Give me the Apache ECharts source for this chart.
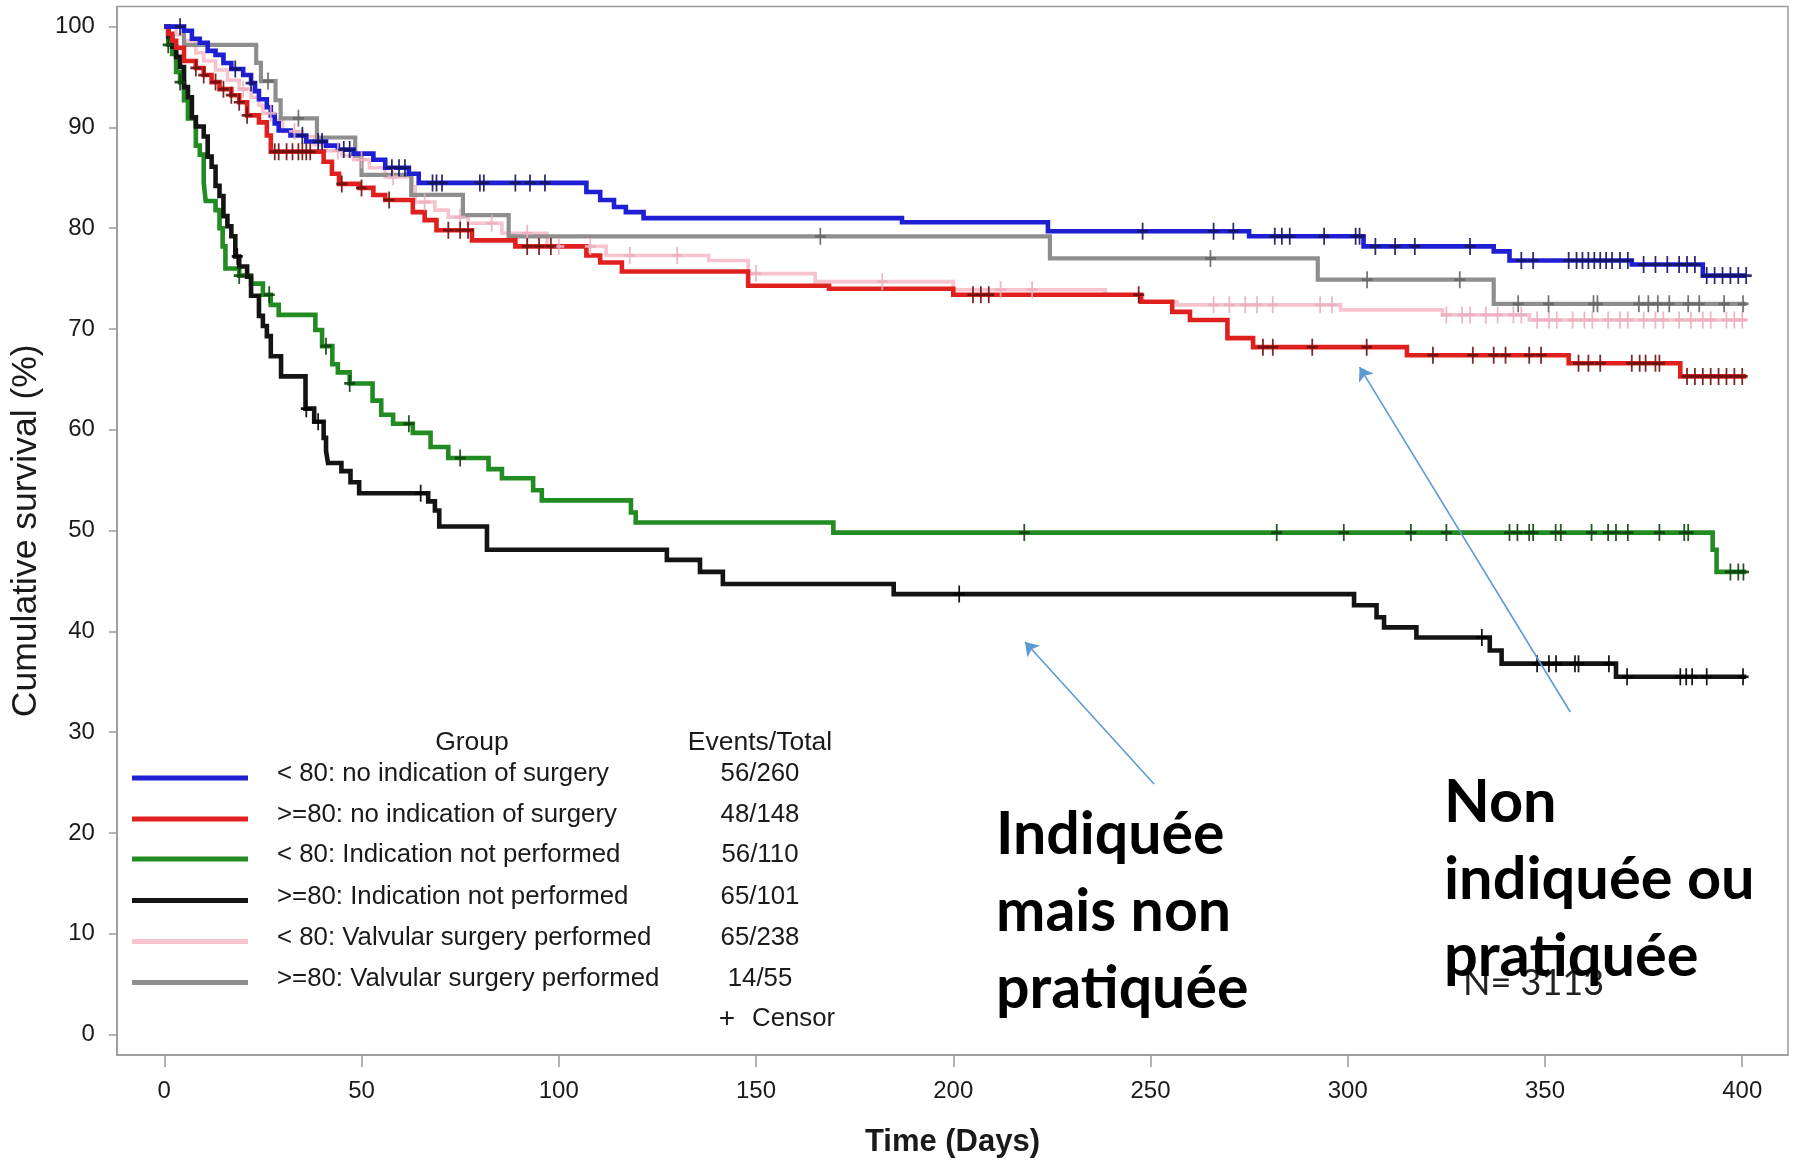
<!DOCTYPE html>
<html>
<head>
<meta charset="utf-8">
<script src="https://cdn.jsdelivr.net/npm/echarts@6/dist/echarts.min.js"></script>
<style>
  html, body { margin: 0; padding: 0; background: #ffffff; }
  #chart { width: 1793px; height: 1167px; }
</style>
</head>
<body>
<div id="chart"></div>
<script>
// ---- axis ticks ----
const xTickValues = [0, 50, 100, 150, 200, 250, 300, 350, 400];
const yTickValues = [0, 10, 20, 30, 40, 50, 60, 70, 80, 90, 100];

// ---- groups ----
const groupLabels = [
  '< 80: no indication of surgery',
  '>=80: no indication of surgery',
  '< 80: Indication not performed',
  '>=80: Indication not performed',
  '< 80: Valvular surgery performed',
  '>=80: Valvular surgery performed'
];
const eventsTotals = ['56/260', '48/148', '56/110', '65/101', '65/238', '14/55'];

// ---- Kaplan-Meier steps: [day, survival (%) from that day on] ----
const kmLt80NoIndication = [[0,100],[5,99.6],[7,98.8],[9,98.4],[11,97.6],[13,97.2],[15,96.4],[17,95.8],[20,95.2],[22,94.4],[23,93.6],[24,92.8],[26,92.0],[27,91.2],[28,90.4],[29,89.7],[32,89.2],[36,88.6],[41,88.2],[44,87.8],[48,87.4],[53,86.8],[56,86.0],[62,85.4],[64.5,84.5],[107,83.6],[110.5,82.8],[114,82.1],[117,81.6],[121.5,81.0],[187,80.6],[224,79.7],[275,79.2],[304,78.2],[337,77.7],[341,76.8],[372,76.4],[390,75.3],[401,75.3]];
const kmGe80NoIndication = [[0,100],[1,99.3],[2,98.6],[3,97.9],[5,96.6],[8,95.9],[10,95.2],[12,94.5],[14,93.8],[17,93.2],[19,92.5],[21,91.2],[24,90.5],[26,89.2],[27,87.6],[40.4,86.6],[42.5,85.4],[44.3,84.4],[49.4,84.0],[53,83.3],[56,82.8],[63,81.6],[66,80.8],[69,79.8],[78,78.8],[89,78.2],[107,77.3],[110.5,76.6],[116,75.7],[148,74.3],[168.5,74.0],[200,73.4],[247.6,72.7],[255.5,71.7],[260,70.9],[269.5,69.1],[276,68.2],[315,67.4],[356,66.6],[384.3,65.3],[401,65.3]];
const kmLt80IndicationNotPerformed = [[0,100],[1,98.2],[2,97.3],[3,95.5],[4,94.5],[5,92.7],[6,90.9],[8,88.2],[9,87.3],[10,84.5],[10.5,82.7],[13,81.8],[14,80.0],[14.8,78.2],[15.5,76.0],[19,75.3],[22,74.5],[25,73.4],[27,72.4],[29,71.4],[38.3,69.9],[40,68.3],[42.6,66.5],[44,65.7],[47,64.6],[52.8,62.9],[55,61.5],[58,60.6],[63,59.7],[67.5,58.3],[72,57.2],[82.2,56.1],[85.6,55.2],[93.5,54.0],[95.7,53.0],[118.3,51.8],[119.5,50.8],[169.6,49.8],[392.5,48.1],[393.5,45.9],[401,45.9]];
const kmGe80IndicationNotPerformed = [[0,100],[1,99],[2,98],[3,97],[4,96],[5,94],[6,93],[7,91],[8,90.1],[10,89.1],[11,87.1],[12,86.1],[13,84.2],[14,83.2],[15,81.2],[16,80.2],[17,79.2],[18,77.2],[19,76.2],[21,75.2],[22,73.3],[24,71.3],[25,70.3],[26,69.3],[27,67.3],[29.6,65.3],[35.8,62.1],[38,60.8],[40.4,59.2],[41,57.9],[41.5,56.7],[44.9,55.9],[47.2,54.8],[49.4,53.7],[66.9,52.9],[68.6,52.0],[69.7,50.4],[81.8,48.1],[127.4,47.1],[135.8,45.9],[141.6,44.7],[184.9,43.7],[301.6,42.6],[307.3,41.4],[309.2,40.4],[317.4,39.4],[336,38.1],[339,36.8],[368,35.5],[401,35.5]];
const kmLt80SurgeryPerformed = [[0,100],[3,99.2],[5,98.6],[8,97.4],[10,96.6],[13,95.7],[16,94.7],[19,93.8],[22,93.0],[24,92.2],[25,91.4],[28,90.7],[30,89.6],[35,89.1],[38,88.3],[41,87.7],[45,87.2],[48,86.8],[52,86.0],[56,85.1],[62.8,84.1],[63.6,82.6],[68.6,81.8],[72,81.1],[77,80.5],[85.6,79.5],[97,78.2],[112,77.3],[138,76.8],[148,75.5],[165,74.7],[200,73.9],[238.5,73.4],[248,72.7],[256.7,72.4],[298.2,71.9],[324,71.4],[346,70.9],[401,70.9]];
const kmGe80SurgeryPerformed = [[0,100],[5,98.2],[23.3,96.4],[24.5,94.6],[28.2,92.7],[29.5,90.9],[38.7,89.0],[48.4,87.2],[50,85.3],[62.6,83.3],[75.7,81.3],[87.3,79.2],[224.5,77.0],[292.4,74.9],[337,72.5],[401,72.5]];

// ---- censored observations (days) ----
const censorLt80NoIndication = [4,18,22,35,39,40,45.5,47,57.7,59.5,61,68,69,70.4,80,81,89,92.7,96.5,248,266,271,281.5,283.3,285.3,294,302,303,307,312,317,331,344,347,356,358,359.5,361,362.5,364,365.5,367,369,371,375,378,381,384,386,388,391,393,395,397,399,401];
const censorGe80NoIndication = [8,10,13,15,17,19,21,28,29,31,32.5,34,35,36,37,45,50,57,72,75,77,92,95,98,205,207,209,247,278.5,281,291,304.8,321.6,331.7,337,340,346,349,358.5,361,364,372,374,375.5,378,379,386,388,390,392,394,396,398,400];
const censorLt80IndicationNotPerformed = [1,4,19,26.6,41,47,62,75,218,282,299,316,325,341,343,346,347,352.7,354,361.8,366,368,371,379,385.3,386.3,397,399,400.3];
const censorGe80IndicationNotPerformed = [18.5,36,39,65,201.5,334,348,351,352.8,357.6,358.5,366.2,370.8,384.3,385.8,387.3,391,400.2];
const censorLt80SurgeryPerformed = [20,27,33,44,50,58,66,75,83,92,100,108,118,130,150,182,212,220,266,270,274,277,281,293,296,325,329,331,335,338,342,344,348,351,353,357,360,362,366,369,371,375,378,380,384,387,390,392,396,398,400];
const censorGe80SurgeryPerformed = [26.3,34,166.3,265.2,304.9,328.4,343.2,350.9,362.3,363.3,373.8,376.2,378.6,381.5,386.3,389.1,395.4,400.2];

// ---- annotation arrows: [tail, head] in [day, %] ----
const arrowIndicated = [[250.9, 24.85], [218.2, 38.94]];
const arrowNotIndicated = [[356.4, 32.0], [303.0, 66.22]];

// ---- styling ----
const lineColors = ['#1e1ed2', '#e0201e', '#228b22', '#141414', '#f7c3cf', '#8e8e8e'];
const censorColors = ['#14145e', '#6a1010', '#0f400f', '#000000', '#eab0be', '#666666'];
const lineWidths = [4.6, 4.6, 4.6, 4.6, 3.6, 4.2];
const FONT = '"Liberation Sans", Arial, Helvetica, sans-serif';
const NOTE_FONT = 'Lato, "Open Sans", sans-serif';
const TEXT_COLOR = '#1a1a1a';

const kmSteps = [kmLt80NoIndication, kmGe80NoIndication, kmLt80IndicationNotPerformed,
                 kmGe80IndicationNotPerformed, kmLt80SurgeryPerformed, kmGe80SurgeryPerformed];
const censorDays = [censorLt80NoIndication, censorGe80NoIndication, censorLt80IndicationNotPerformed,
                    censorGe80IndicationNotPerformed, censorLt80SurgeryPerformed, censorGe80SurgeryPerformed];

// survival level of a step curve at a given day
function survivalAt(steps, day) {
  let s = steps[0][1];
  for (const [t, v] of steps) { if (t <= day) s = v; else break; }
  return s;
}

const plusSymbol = 'path://M4.2,0 H5.8 V4.2 H10 V5.8 H5.8 V10 H4.2 V5.8 H0 V4.2 H4.2 Z';

// draw pink and gray first so the others sit on top
const drawOrder = [4, 5, 2, 3, 1, 0];
const series = [];
drawOrder.forEach(function (g) {
  series.push({
    type: 'line',
    name: groupLabels[g],
    data: kmSteps[g],
    step: 'end',
    showSymbol: false,
    silent: true,
    z: 2,
    lineStyle: { color: lineColors[g], width: lineWidths[g], join: 'miter', cap: 'butt' }
  });
  series.push({
    type: 'scatter',
    name: groupLabels[g] + ' censor',
    data: censorDays[g].map(d => [d, survivalAt(kmSteps[g], d)]),
    symbol: plusSymbol,
    symbolSize: [11, 17],
    silent: true,
    z: 3,
    itemStyle: { color: censorColors[g], opacity: 0.9 }
  });
});

series.push({
  type: 'lines',
  coordinateSystem: 'cartesian2d',
  silent: true,
  z: 5,
  symbol: ['none', 'arrow'],
  symbolSize: 13,
  lineStyle: { color: '#5b9bd5', width: 1.6, opacity: 1, curveness: 0 },
  data: [{ coords: arrowIndicated }, { coords: arrowNotIndicated }]
});

// ---- legend table (drawn as graphics) ----
const legendRowY = [774, 815, 855, 896.5, 937.5, 978.5];
const graphics = [];
graphics.push({ type: 'text', x: 472, y: 743, style: { text: 'Group', font: '26.5px ' + FONT, fill: TEXT_COLOR, align: 'center', verticalAlign: 'middle' } });
graphics.push({ type: 'text', x: 760, y: 743, style: { text: 'Events/Total', font: '26.5px ' + FONT, fill: TEXT_COLOR, align: 'center', verticalAlign: 'middle' } });
groupLabels.forEach(function (label, i) {
  const y = legendRowY[i];
  graphics.push({ type: 'line', shape: { x1: 132, y1: y + 4, x2: 248, y2: y + 4 },
    style: { stroke: lineColors[i], lineWidth: 5 } });
  graphics.push({ type: 'text', x: 277, y: y, style: { text: label, font: '25.8px ' + FONT, fill: TEXT_COLOR, align: 'left', verticalAlign: 'middle' } });
  graphics.push({ type: 'text', x: 760, y: y, style: { text: eventsTotals[i], font: '25.8px ' + FONT, fill: TEXT_COLOR, align: 'center', verticalAlign: 'middle' } });
});
graphics.push({ type: 'text', x: 727, y: 1019, style: { text: '+', font: '28px ' + FONT, fill: TEXT_COLOR, align: 'center', verticalAlign: 'middle' } });
graphics.push({ type: 'text', x: 752, y: 1019, style: { text: 'Censor', font: '25.8px ' + FONT, fill: TEXT_COLOR, align: 'left', verticalAlign: 'middle' } });

// ---- annotations ----
const noteLeft = ['Indiquée', 'mais non', 'pratiquée'];
const noteRight = ['Non', 'indiquée ou', 'pratiquée'];
graphics.push({ type: 'text', x: 1463, y: 983, style: { text: 'N= 3113', font: '36px ' + NOTE_FONT, fill: '#222', align: 'left', verticalAlign: 'middle' } });
noteLeft.forEach(function (t, i) {
  graphics.push({ type: 'text', x: 996, y: 835 + i * 77, style: { text: t, font: 'bold 59px ' + NOTE_FONT, fill: '#000', align: 'left', verticalAlign: 'middle' } });
});
noteRight.forEach(function (t, i) {
  graphics.push({ type: 'text', x: 1444, y: 803 + i * 76.7, style: { text: t, font: 'bold 59.5px ' + NOTE_FONT, fill: '#000', align: 'left', verticalAlign: 'middle' } });
});

const chart = echarts.init(document.getElementById('chart'), null, { renderer: 'canvas' });
chart.setOption({
  animation: false,
  backgroundColor: '#ffffff',
  grid: { left: 114.3, right: 5, top: 6.5, bottom: 112, show: true, borderColor: '#9a9a9a', borderWidth: 1.5, backgroundColor: 'transparent' },
  xAxis: {
    type: 'value', min: -12, max: 411.6,
    name: 'Time (Days)', nameLocation: 'middle', nameGap: 72,
    nameTextStyle: { fontFamily: FONT, fontSize: 31, fontWeight: 'bold', color: TEXT_COLOR },
    axisLine: { show: true, onZero: false, lineStyle: { color: '#9a9a9a', width: 1.5 } },
    axisTick: { show: true, length: 12, customValues: xTickValues, lineStyle: { color: '#9a9a9a', width: 1.5 } },
    axisLabel: { customValues: xTickValues, margin: 24, fontFamily: FONT, fontSize: 24, color: TEXT_COLOR },
    splitLine: { show: false }
  },
  yAxis: {
    type: 'value', min: -2.03, max: 102,
    name: 'Cumulative survival (%)', nameLocation: 'middle', nameGap: 64, nameRotate: 90,
    nameTextStyle: { fontFamily: FONT, fontSize: 35.5, color: TEXT_COLOR },
    axisLine: { show: true, onZero: false, lineStyle: { color: '#9a9a9a', width: 1.5 } },
    axisTick: { show: true, length: 8, customValues: yTickValues, lineStyle: { color: '#9a9a9a', width: 1.5 } },
    axisLabel: { customValues: yTickValues, margin: 22, fontFamily: FONT, fontSize: 24, color: TEXT_COLOR },
    splitLine: { show: false }
  },
  series: series,
  graphic: graphics
});
</script>
</body>
</html>
